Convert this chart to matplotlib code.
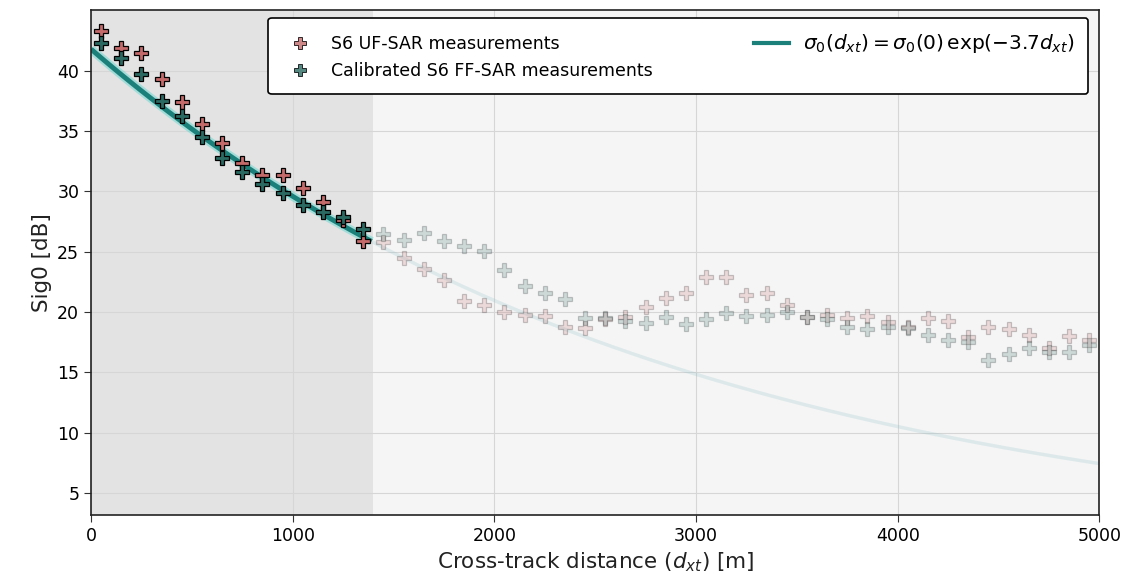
import numpy as np
import matplotlib
matplotlib.use("Agg")
import matplotlib.pyplot as plt

# Cross-track distances [m]
distance = [50, 150, 250, 350, 450, 550, 650, 750, 850, 950,
            1050, 1150, 1250, 1350, 1450, 1550, 1650, 1750, 1850, 1950,
            2050, 2150, 2250, 2350, 2450, 2550, 2650, 2750, 2850, 2950,
            3050, 3150, 3250, 3350, 3450, 3550, 3650, 3750, 3850, 3950,
            4050, 4150, 4250, 4350, 4450, 4550, 4650, 4750, 4850, 4950]

uf_sar = [43.3, 41.9, 41.5, 39.3, 37.4, 35.6, 34.0, 32.4, 31.4, 31.4,
          30.3, 29.1, 27.6, 25.9, 25.8, 24.5, 23.6, 22.7, 20.9, 20.6,
          20.0, 19.8, 19.7, 18.8, 18.7, 19.4, 19.6, 20.4, 21.2, 21.6,
          22.9, 22.9, 21.4, 21.6, 20.6, 19.6, 19.8, 19.5, 19.7, 19.2,
          18.8, 19.5, 19.3, 17.9, 18.8, 18.6, 18.1, 17.0, 18.0, 17.7]

ff_sar = [42.3, 41.1, 39.7, 37.5, 36.3, 34.5, 32.8, 31.6, 30.6, 29.9,
          28.9, 28.3, 27.9, 26.9, 26.5, 26.0, 26.6, 25.9, 25.5, 25.1,
          23.5, 22.2, 21.6, 21.1, 19.5, 19.5, 19.3, 19.1, 19.6, 19.0,
          19.4, 19.9, 19.7, 19.8, 20.0, 19.6, 19.4, 18.8, 18.6, 18.8,
          18.7, 18.1, 17.7, 17.5, 16.0, 16.5, 17.0, 16.7, 16.7, 17.3]

# Model parameters: sigma0(0) [dB] and decay
sigma0_0 = 41.8
decay_per_m = 0.000345
calib_limit = 1400

x_ticks = [0, 1000, 2000, 3000, 4000, 5000]
y_ticks = [5, 10, 15, 20, 25, 30, 35, 40]

red = "#c46a6a"
green = "#2a6a62"
line_c = "#1b7f7a"

fig = plt.figure(figsize=(11.24, 5.85), dpi=100)
ax = fig.add_axes([0.081, 0.12, 0.897, 0.863])
ax.set_facecolor("#f5f5f5")
ax.axvspan(0, calib_limit, color="#e3e3e3", zorder=0, lw=0)
ax.grid(True, color="#d6d6d6", lw=0.8, zorder=0.5)
ax.set_axisbelow(True)

d = np.array(distance)
uf = np.array(uf_sar)
ff = np.array(ff_sar)
inside = d <= calib_limit

xm = np.linspace(0, 5000, 400)
ym = sigma0_0 * np.exp(-decay_per_m * xm)
m_in = xm <= calib_limit
m_out = xm >= calib_limit

ax.plot(xm[m_in], ym[m_in], color="#6fd8d0", lw=6.5, alpha=0.55, zorder=2, solid_capstyle="butt")
ax.plot(xm[m_in], ym[m_in], color=line_c, lw=3.5, zorder=2.1, solid_capstyle="butt")
ax.plot(xm[m_out], ym[m_out], color="#7fb8c0", lw=2.5, alpha=0.2, zorder=2.1)

ms = 9.5
ax.plot(d[~inside], uf[~inside], "P", color=red, mec="k", mew=0.9, ms=ms, alpha=0.2, ls="none", zorder=3)
ax.plot(d[~inside], ff[~inside], "P", color=green, mec="k", mew=0.9, ms=ms, alpha=0.2, ls="none", zorder=3)
ax.plot(d[inside], uf[inside], "P", color=red, mec="k", mew=0.9, ms=ms, ls="none", zorder=4)
ax.plot(d[inside], ff[inside], "P", color=green, mec="k", mew=0.9, ms=ms, ls="none", zorder=4)

h1, = ax.plot([], [], "P", color=red, mec="k", mew=0.7, ms=8, alpha=0.8, ls="none")
h2, = ax.plot([], [], "P", color=green, mec="k", mew=0.7, ms=8, alpha=0.8, ls="none")
h3, = ax.plot([], [], color=line_c, lw=3)

leg = ax.legend([h1, h2, h3],
                ["S6 UF-SAR measurements", "Calibrated S6 FF-SAR measurements",
                 r"$\sigma_0(d_{xt}) = \sigma_0(0)\,\exp(-3.7 d_{xt})$"],
                ncol=2, loc="upper left", mode="expand", fontsize=12.5, frameon=True,
                fancybox=True, edgecolor="black", framealpha=1,
                borderpad=0.8, handletextpad=0.8, handlelength=2.0,
                labelspacing=0.55, borderaxespad=0,
                bbox_to_anchor=(0.176, 0.838, 0.813, 0.146))
leg.get_frame().set_linewidth(1.2)
leg.get_texts()[2].set_fontsize(14.5)

ax.set_xlim(0, 5000)
ax.set_ylim(3.2, 45.05)
ax.set_xticks(x_ticks)
ax.set_yticks(y_ticks)
ax.tick_params(labelsize=12.5, length=5, color="#333333")
for s in ax.spines.values():
    s.set_linewidth(1.2)
    s.set_color("#222222")

ax.set_xlabel(r"Cross-track distance ($d_{xt}$) [m]", fontsize=15.5, color="#222222")
ax.set_ylabel("Sig0 [dB]", fontsize=15.5, color="#222222")

fig.savefig("out.png", dpi=100)
